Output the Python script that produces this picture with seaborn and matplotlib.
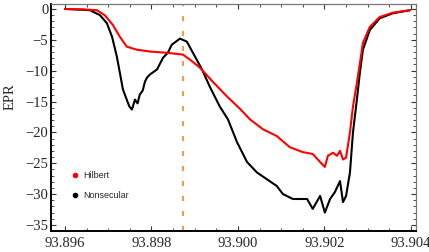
import numpy as np
import pandas as pd
import matplotlib
matplotlib.use("Agg")
import matplotlib.pyplot as plt
from matplotlib.lines import Line2D
from matplotlib.ticker import MultipleLocator, FormatStrFormatter
import seaborn as sns

# frequency values
hilbert_x = [93.8960, 93.8964, 93.89674, 93.89692, 93.89711, 93.89727, 93.89743,
             93.89766, 93.89797, 93.89836, 93.89873, 93.89889, 93.89912, 93.89942,
             93.89975, 93.90005, 93.90028, 93.90058, 93.90090, 93.90120, 93.90150,
             93.90173, 93.90190, 93.90201, 93.90208, 93.90220, 93.90229, 93.90236,
             93.90243, 93.90250, 93.90259, 93.90266, 93.90275, 93.90282, 93.90289,
             93.90305, 93.90328, 93.90358, 93.90398]
hilbert_y = [0.0, -0.05, -0.2, -1.0, -2.6, -4.5, -6.1,
             -6.6, -6.9, -7.1, -7.4, -8.2, -9.5, -11.8,
             -14.2, -16.2, -17.9, -19.5, -20.6, -22.4, -23.2,
             -23.5, -24.8, -25.6, -23.8, -23.3, -23.8, -23.0,
             -24.4, -24.1, -20.0, -15.8, -12.0, -8.8, -5.5,
             -2.9, -1.3, -0.6, -0.2]

nonsec_x = [93.8960, 93.89658, 93.89681, 93.89697, 93.89709, 93.89720, 93.89727,
            93.89734, 93.89743, 93.89749, 93.89755, 93.89762, 93.89768, 93.89773,
            93.89780, 93.89785, 93.89790, 93.89797, 93.89813, 93.89827, 93.89838,
            93.89847, 93.89866, 93.89882, 93.89896, 93.89917, 93.89935, 93.89958,
            93.89977, 93.89998, 93.90021, 93.90044, 93.90067, 93.90090, 93.90104,
            93.90127, 93.90160, 93.90173, 93.90190, 93.90201, 93.90213, 93.90224,
            93.90236, 93.90243, 93.90250, 93.90259, 93.90266, 93.90275, 93.90282,
            93.90289, 93.90305, 93.90328, 93.90358, 93.90398]
nonsec_y = [0.0, -0.2, -1.0, -2.3, -4.5, -7.7, -10.3,
            -13.0, -14.7, -15.8, -16.3, -14.7, -15.3, -13.9,
            -13.2, -11.8, -11.1, -10.6, -9.8, -7.9, -7.1,
            -5.8, -4.8, -5.3, -7.1, -9.8, -12.6, -15.8,
            -17.9, -21.6, -24.8, -26.5, -27.6, -28.7, -30.0,
            -30.8, -30.8, -32.4, -30.3, -33.0, -30.8, -29.7,
            -27.9, -31.3, -30.3, -26.5, -20.0, -14.7, -10.3,
            -6.6, -3.4, -1.5, -0.7, -0.2]

marker_x = 93.89873

df = pd.concat([
    pd.DataFrame({"freq": hilbert_x, "EPR": hilbert_y, "model": "Hilbert"}),
    pd.DataFrame({"freq": nonsec_x, "EPR": nonsec_y, "model": "Nonsecular"}),
])

sns.set_style("ticks")
plt.rcParams["font.family"] = ["Liberation Serif", "DejaVu Serif"]

fig = plt.figure(figsize=(4.29, 2.52), dpi=100)
ax = fig.add_axes([0.119, 0.083, 0.851, 0.901])

sns.lineplot(data=df, x="freq", y="EPR", hue="model",
             palette={"Hilbert": "#ff0000", "Nonsecular": "#000000"},
             hue_order=["Nonsecular", "Hilbert"],
             linewidth=1.5, legend=False, sort=False, ax=ax)
# red on top
ax.lines[1].set_zorder(3)

ax.axvline(marker_x, color="#f39230", lw=1.3, ls=(0, (2.8, 5.5)), zorder=1)

ax.set_xlim(93.89568, 93.90412)
ax.set_ylim(-36.0, 0.8)
ax.xaxis.set_major_locator(MultipleLocator(0.002))
ax.xaxis.set_minor_locator(MultipleLocator(0.0005))
ax.xaxis.set_major_formatter(FormatStrFormatter("%.3f"))
ax.yaxis.set_major_locator(MultipleLocator(5))
ax.yaxis.set_minor_locator(MultipleLocator(1))
ax.tick_params(which="both", direction="in", top=True, right=True,
               labelsize=10.5, color="#333333")
ax.tick_params(axis="x", pad=4)
ax.tick_params(axis="y", pad=2)
ax.tick_params(which="major", length=3.5, width=0.8)
ax.tick_params(which="minor", length=2, width=0.6)

for side in ["left", "bottom"]:
    ax.spines[side].set_linewidth(1.4)
    ax.spines[side].set_color("black")
for side in ["top", "right"]:
    ax.spines[side].set_linewidth(0.9)
    ax.spines[side].set_color("#777777")

ax.set_xlabel("")
ax.set_ylabel("EPR", fontsize=10.5)
ax.yaxis.set_label_coords(-0.095, 0.59)

handles = [Line2D([], [], ls="none", marker="o", ms=3, color="#ff0000"),
           Line2D([], [], ls="none", marker="o", ms=3, color="#000000")]
ax.legend(handles, ["Hilbert", "Nonsecular"], loc="upper left",
          bbox_to_anchor=(0.03, 0.30), frameon=False, handlelength=1.0,
          handletextpad=0.4, labelspacing=1.2,
          prop={"family": "Liberation Sans", "size": 6.5})

fig.savefig("out.png", dpi=100)
